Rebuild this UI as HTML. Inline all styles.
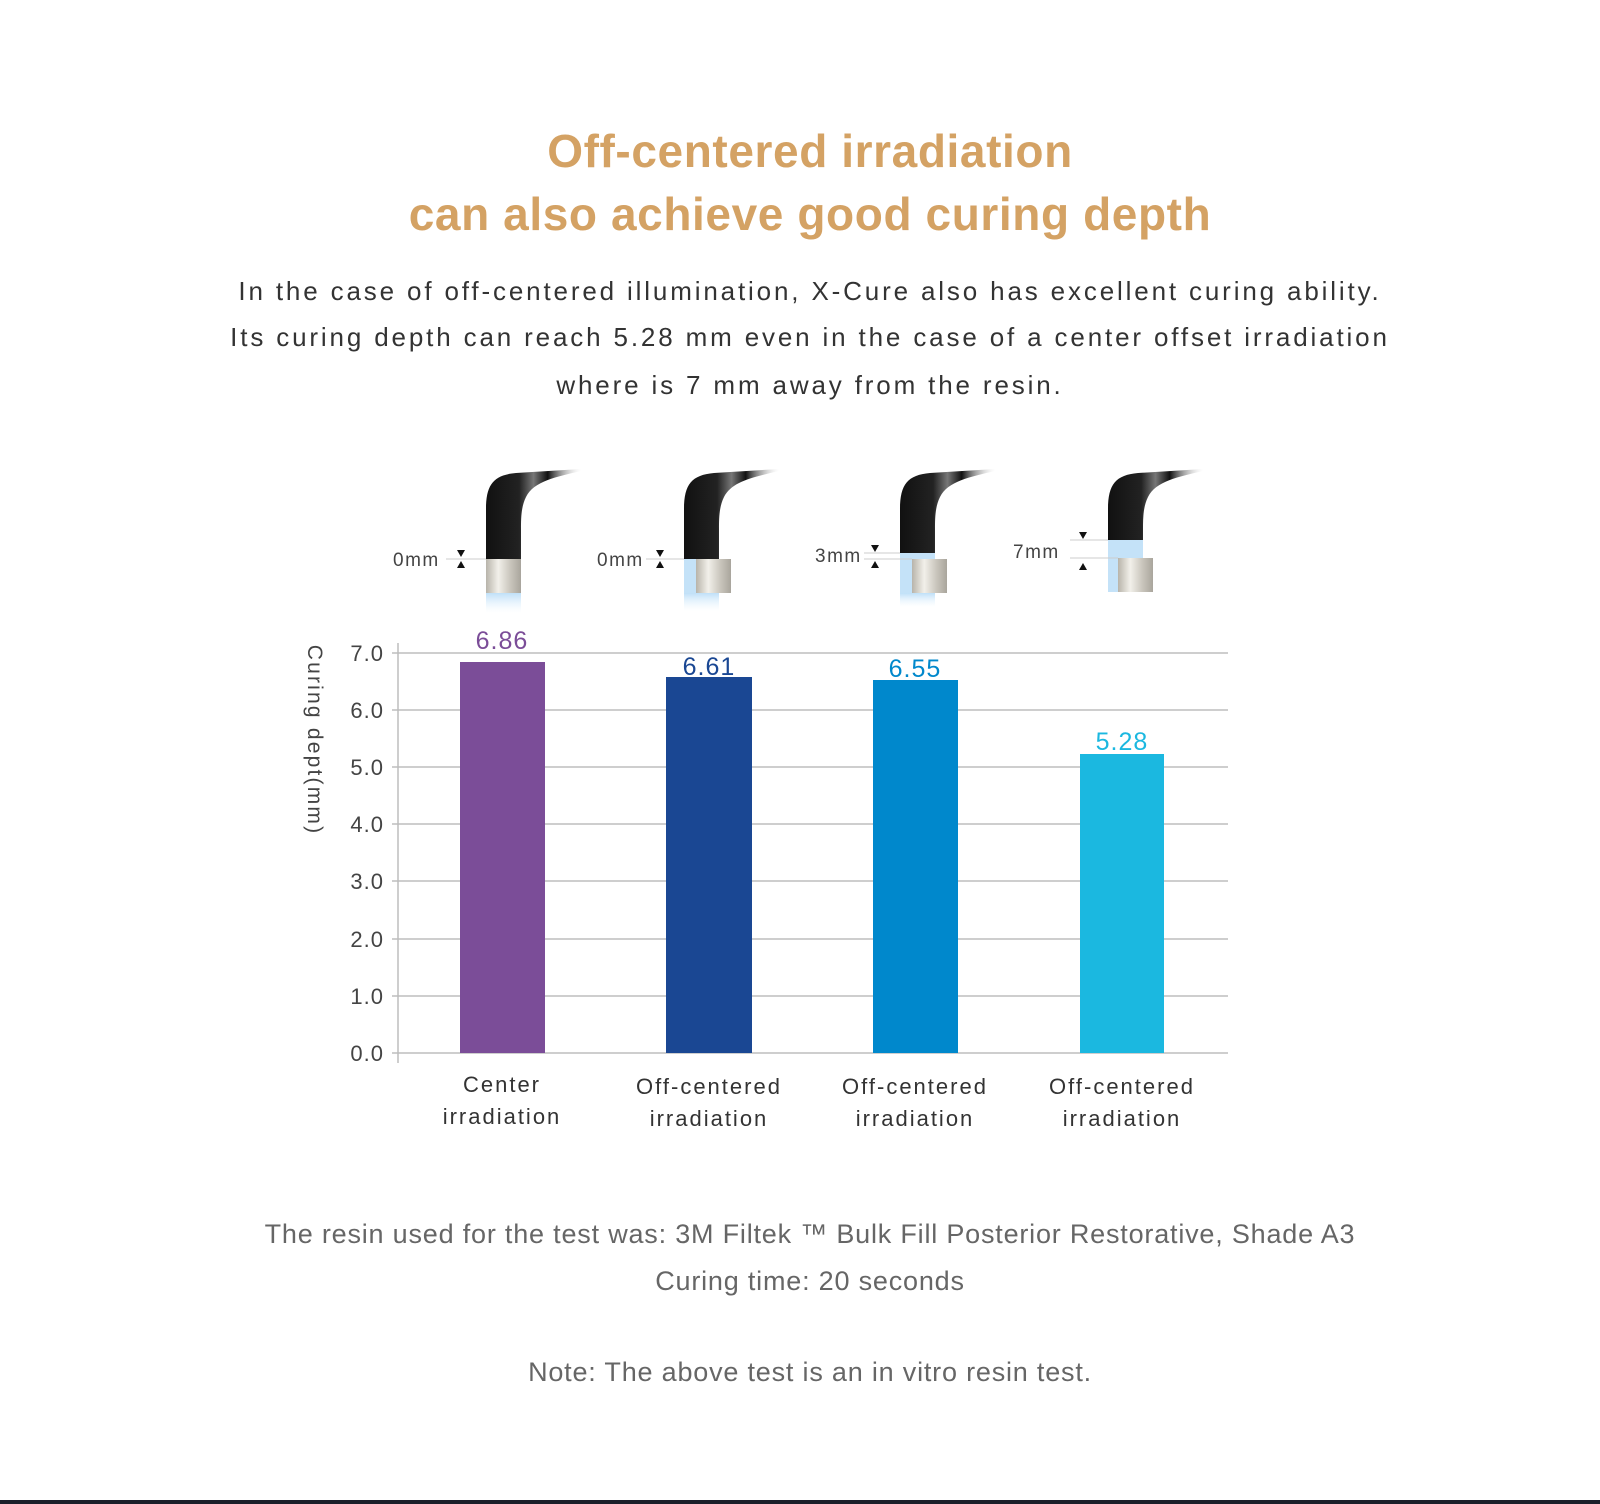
<!DOCTYPE html>
<html><head><meta charset="utf-8"><style>
html,body{margin:0;padding:0;background:#fff;}
body{width:1600px;height:1504px;position:relative;overflow:hidden;font-family:"Liberation Sans",sans-serif;}
.t{position:absolute;left:10px;width:1600px;text-align:center;white-space:nowrap;}
.h{color:#d4a264;font-weight:bold;font-size:46px;letter-spacing:0.6px;}
.p{color:#333;font-size:26px;letter-spacing:2.85px;}
.f{color:#666;font-size:27px;letter-spacing:0.8px;}
</style></head><body>
<div class="t h" style="top:124px">Off-centered irradiation</div>
<div class="t h" style="top:187px">can also achieve good curing depth</div>
<div class="t p" style="top:276px">In the case of off-centered illumination, X-Cure also has excellent curing ability.</div>
<div class="t p" style="top:322px">Its curing depth can reach 5.28 mm even in the case of a center offset irradiation</div>
<div class="t p" style="top:370px">where is 7 mm away from the resin.</div>

<svg width="1600" height="1504" style="position:absolute;left:0;top:0" font-family="Liberation Sans, sans-serif">
<defs>
<linearGradient id="tb" x1="0" y1="0" x2="1" y2="0">
<stop offset="0" stop-color="#111"/><stop offset="0.35" stop-color="#222"/><stop offset="0.5" stop-color="#777"/><stop offset="0.65" stop-color="#111"/><stop offset="1" stop-color="#fff" stop-opacity="0.2"/>
</linearGradient>
<linearGradient id="cy" x1="0" y1="0" x2="1" y2="0">
<stop offset="0" stop-color="#b8b4aa"/><stop offset="0.35" stop-color="#f2f0ea"/><stop offset="0.7" stop-color="#c9c5bc"/><stop offset="1" stop-color="#a9a59c"/>
</linearGradient>
<linearGradient id="gl" x1="0" y1="0" x2="0" y2="1">
<stop offset="0" stop-color="#bfe0f8"/><stop offset="1" stop-color="#e8f4fd" stop-opacity="0"/>
</linearGradient>
<g id="tube"><path d="M0,0 L0,-50 C0,-75 8,-84 30,-86 L95,-90 L95,-88 C70,-82 48,-78 40,-62 C35,-52 35,-40 35,-30 L35,0 Z" fill="url(#tb)"/></g>
</defs>
<use href="#tube" x="486" y="559"/>
<rect x="486" y="593" width="35" height="20" fill="url(#gl)"/>
<rect x="486" y="559" width="35" height="34" fill="url(#cy)"/>
<use href="#tube" x="684" y="559"/>
<rect x="684" y="559" width="12" height="34" fill="#c4e2f8"/>
<rect x="684" y="593" width="35" height="18" fill="url(#gl)"/>
<rect x="696" y="559" width="35" height="34" fill="url(#cy)"/>
<use href="#tube" x="900" y="559"/>
<rect x="900" y="553" width="35" height="40" fill="#c4e2f8"/>
<rect x="900" y="593" width="35" height="14" fill="url(#gl)"/>
<rect x="912" y="559" width="35" height="34" fill="url(#cy)"/>
<use href="#tube" x="1108" y="559"/>
<rect x="1108" y="540" width="35" height="52" fill="#c4e2f8"/>
<rect x="1118" y="558" width="35" height="34" fill="url(#cy)"/>

<g font-size="19" fill="#444" letter-spacing="1.5">
<text x="393" y="566">0mm</text>
<text x="597" y="566">0mm</text>
<text x="815" y="562">3mm</text>
<text x="1013" y="558">7mm</text>
</g>
<g stroke="#ccc" stroke-width="1">
<line x1="446" y1="559" x2="486" y2="559"/><line x1="646" y1="559" x2="684" y2="559"/>
<line x1="864" y1="553" x2="900" y2="553"/><line x1="864" y1="559" x2="912" y2="559"/>
<line x1="1070" y1="540" x2="1108" y2="540"/><line x1="1070" y1="558" x2="1118" y2="558"/>
</g>
<g fill="#111">
<path d="M457,550 h8 l-4,7z M457,568 h8 l-4,-7z"/>
<path d="M656,550 h8 l-4,7z M656,568 h8 l-4,-7z"/>
<path d="M871,545 h8 l-4,7z M871,568 h8 l-4,-7z"/>
<path d="M1079,532 h8 l-4,7z M1079,570 h8 l-4,-7z"/>
</g>

<g stroke="#bdbdbd" stroke-width="1.5">
<line x1="392" y1="653" x2="1228" y2="653"/>
<line x1="392" y1="710" x2="1228" y2="710"/>
<line x1="392" y1="767" x2="1228" y2="767"/>
<line x1="392" y1="824" x2="1228" y2="824"/>
<line x1="392" y1="881" x2="1228" y2="881"/>
<line x1="392" y1="939" x2="1228" y2="939"/>
<line x1="392" y1="996" x2="1228" y2="996"/>
<line x1="392" y1="1053" x2="1228" y2="1053"/>
<line x1="398" y1="643" x2="398" y2="1063"/>
</g>
<g font-size="22" fill="#444" text-anchor="end" letter-spacing="1">
<text x="384" y="661">7.0</text><text x="384" y="718">6.0</text><text x="384" y="775">5.0</text>
<text x="384" y="832">4.0</text><text x="384" y="889">3.0</text><text x="384" y="947">2.0</text>
<text x="384" y="1004">1.0</text><text x="384" y="1061">0.0</text>
</g>
<text transform="translate(308,740) rotate(90)" text-anchor="middle" font-size="21" fill="#444" letter-spacing="2.2">Curing dept(mm)</text>

<rect x="460" y="662" width="85" height="391" fill="#7b4d98"/>
<rect x="666" y="677" width="86" height="376" fill="#1a4793"/>
<rect x="873" y="680" width="85" height="373" fill="#0088cc"/>
<rect x="1080" y="754" width="84" height="299" fill="#1bb8e0"/>

<g font-size="25" text-anchor="middle" letter-spacing="1">
<text x="502" y="649" fill="#7b4d98">6.86</text>
<text x="709" y="675" fill="#1a4793">6.61</text>
<text x="915" y="677" fill="#0088cc">6.55</text>
<text x="1122" y="750" fill="#1bb8e0">5.28</text>
</g>
<g font-size="22" fill="#333" text-anchor="middle" letter-spacing="2">
<text x="502" y="1092">Center</text><text x="502" y="1124">irradiation</text>
<text x="709" y="1094">Off-centered</text><text x="709" y="1126">irradiation</text>
<text x="915" y="1094">Off-centered</text><text x="915" y="1126">irradiation</text>
<text x="1122" y="1094">Off-centered</text><text x="1122" y="1126">irradiation</text>
</g>
<rect x="0" y="1500" width="1600" height="4" fill="#1a1f2a"/>
</svg>

<div class="t f" style="top:1219px">The resin used for the test was: 3M Filtek ™ Bulk Fill Posterior Restorative, Shade A3</div>
<div class="t f" style="top:1266px">Curing time: 20 seconds</div>
<div class="t f" style="top:1357px">Note: The above test is an in vitro resin test.</div>
</body></html>
